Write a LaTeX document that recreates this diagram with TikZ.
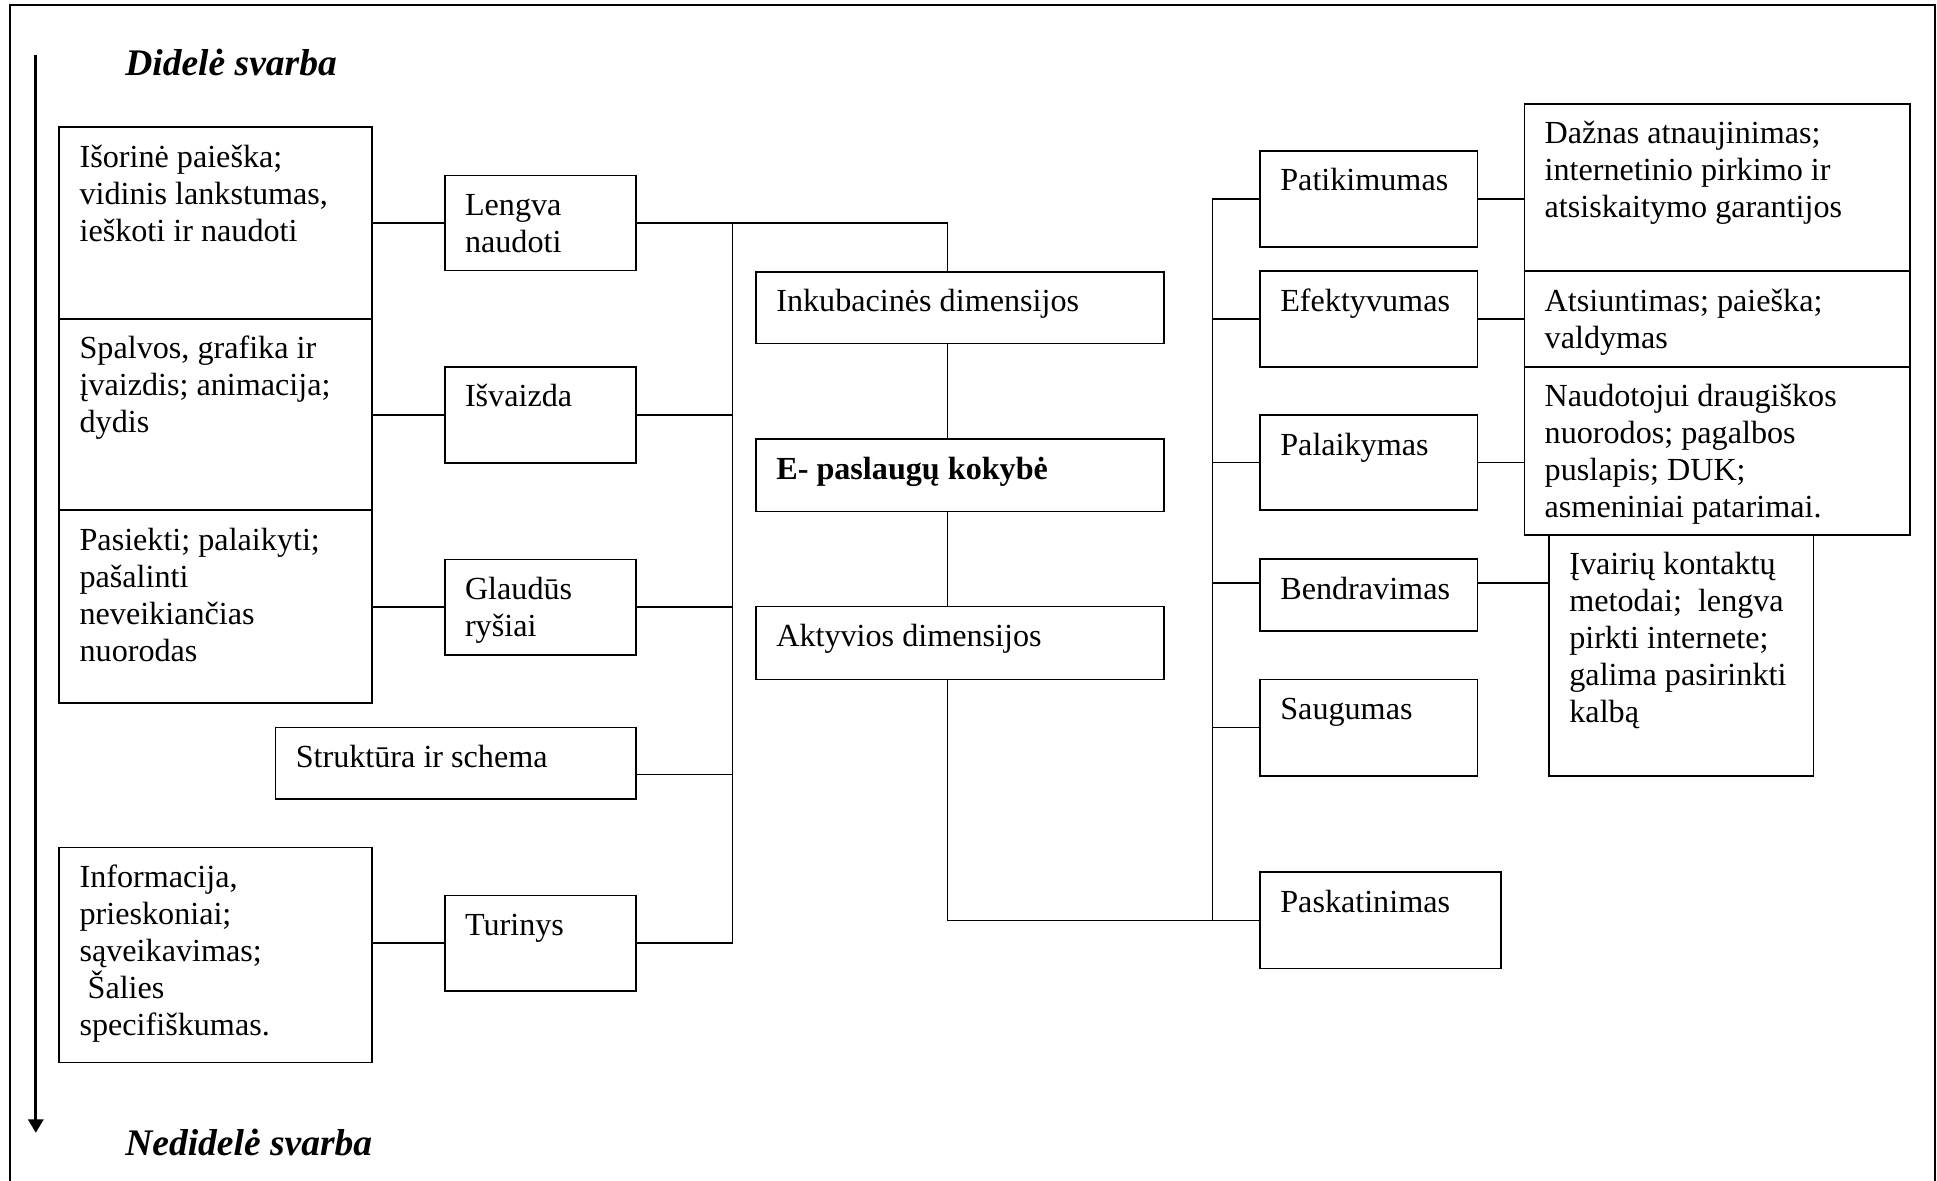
\documentclass[tikz,border=0pt]{standalone}
\usepackage{fontspec}
\setmainfont{Liberation Serif}
\usetikzlibrary{arrows.meta,calc}

\newcommand\dbox[6]{%
  \node[boxst, anchor=north west, minimum width={(#4-#2)*0.461pt}, minimum height={(#5-#3)*0.461pt}] (#1) at (#2,#3) {};
  \node[txtst] (#1t) at ({#2+16},{#3+32}) {\rule{0pt}{11pt}#6};
}

\begin{document}
\begin{tikzpicture}[x=0.461pt,y=-0.461pt,
  boxst/.style={draw, line width=0.65pt, inner sep=0pt, outer sep=0pt},
  txtst/.style={anchor=north west, inner sep=0pt, align=left, yshift=11pt, font=\fontsize{12}{13.8}\selectfont},
  ln/.style={line width=0.6pt},
  head/.style={anchor=base west, inner sep=0pt, font=\fontsize{14}{16.8}\selectfont\bfseries\itshape}]
\useasboundingbox (0,0) rectangle (1568,956);

% outer frame (open at the bottom)
\draw[line width=0.8pt] (8,956) -- (8,4) -- (1566.5,4) -- (1566.5,956);

% importance arrow
\coordinate (atop) at (29,44.5);
\coordinate (abot) at (29,917);
\draw[line width=1.1pt, -{Triangle[width=5.6pt,length=5pt]}] (atop) -- (abot);
\node[head] (hi) at (101,61) {Didelė svarba};
\node[head] (lo) at (101,935) {Nedidelė svarba};

% left column
\dbox{b1}{48}{103}{301}{258}{Išorinė paieška;\\vidinis lankstumas,\\ieškoti ir naudoti}
\dbox{b2}{48}{258}{301}{413}{Spalvos, grafika ir\\įvaizdis; animacija;\\dydis}
\dbox{b3}{48}{413}{301}{569}{Pasiekti; palaikyti;\\pašalinti\\neveikiančias\\nuorodas}
\dbox{strukt}{223}{589}{515}{647}{Struktūra ir schema}
\dbox{b5}{48}{686}{301}{860}{Informacija,\\prieskoniai;\\sąveikavimas;\\\ Šalies\\specifiškumas.}

% second column
\dbox{lengva}{360}{142}{515}{219}{Lengva\\naudoti}
\dbox{isv}{360}{297}{515}{375}{Išvaizda}
\dbox{glaud}{360}{453}{515}{530}{Glaudūs\\ryšiai}
\dbox{turin}{360}{725}{515}{802}{Turinys}

% centre column
\dbox{inkub}{612}{220}{942}{278}{Inkubacinės dimensijos}
\dbox{eq}{612}{355.5}{942}{414}{\bfseries E- paslaugų kokybė}
\dbox{akt}{612}{491}{942}{550}{Aktyvios dimensijos}

% right dimension column
\dbox{patik}{1020}{122}{1196}{200}{Patikimumas}
\dbox{efekt}{1020}{219.5}{1196}{297}{Efektyvumas}
\dbox{palaik}{1020}{336}{1196}{413}{Palaikymas}
\dbox{bendr}{1020}{452.5}{1196}{511}{Bendravimas}
\dbox{saug}{1020}{550}{1196}{628}{Saugumas}
\dbox{pask}{1020}{706}{1215}{784}{Paskatinimas}

% right description column
\dbox{dazn}{1234}{84}{1546}{219.5}{Dažnas atnaujinimas;\\internetinio pirkimo ir\\atsiskaitymo garantijos}
\dbox{atsi}{1234}{219.5}{1546}{297}{Atsiuntimas; paieška;\\valdymas}
\dbox{naud}{1234}{297}{1546}{433}{Naudotojui draugiškos\\nuorodos; pagalbos\\puslapis; DUK;\\asmeniniai patarimai.}
\dbox{ivair}{1254}{433}{1468}{628}{Įvairių kontaktų\\metodai;\ \ lengva\\pirkti internete;\\galima pasirinkti\\kalbą}

% bus coordinates
\coordinate (busL) at (593,0);
\coordinate (spine) at (767,0);
\coordinate (busR) at (981.5,0);

% left connectors
\draw[ln] (b1.east) -- (lengva.west);
\draw[ln] (b2.east |- isv.west) -- (isv.west);
\draw[ln] (b3.east |- glaud.west) -- (glaud.west);
\draw[ln] (b5.east |- turin.west) -- (turin.west);

\draw[ln] (lengva.east) -- (lengva.east -| spine) -- (spine |- inkub.north);
\draw[ln] (lengva.east -| busL) -- (turin.east -| busL);
\draw[ln] (isv.east) -- (isv.east -| busL);
\draw[ln] (glaud.east) -- (glaud.east -| busL);
\coordinate (sk) at ($(strukt.north east)!0.655!(strukt.south east)$);
\draw[ln] (sk) -- (sk -| busL);
\draw[ln] (turin.east) -- (turin.east -| busL);

% centre spine
\draw[ln] (inkub.south -| spine) -- (eq.north -| spine);
\draw[ln] (eq.south -| spine) -- (akt.north -| spine);
\draw[ln] (akt.south -| spine) -- (spine |- pask.west) -- (pask.west);

% right bus
\draw[ln] (patik.west -| busR) -- (pask.west -| busR);
\draw[ln] (patik.west) -- (patik.west -| busR);
\draw[ln] (efekt.west) -- (efekt.west -| busR);
\draw[ln] (palaik.west) -- (palaik.west -| busR);
\coordinate (bk) at ($(bendr.north west)!0.333!(bendr.south west)$);
\draw[ln] (bk) -- (bk -| busR);
\draw[ln] (saug.west) -- (saug.west -| busR);

% right connectors
\draw[ln] (patik.east) -- (patik.east -| dazn.west);
\draw[ln] (efekt.east) -- (efekt.east -| atsi.west);
\draw[ln] (palaik.east) -- (palaik.east -| naud.west);
\coordinate (bk2) at ($(bendr.north east)!0.333!(bendr.south east)$);
\draw[ln] (bk2) -- (bk2 -| ivair.west);
\end{tikzpicture}
\end{document}
